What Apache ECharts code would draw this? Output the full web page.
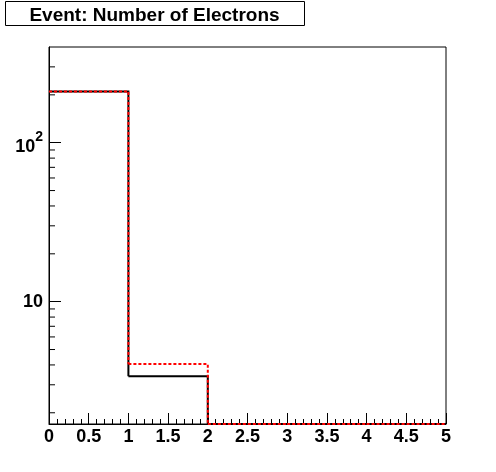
<!DOCTYPE html>
<html>
<head>
<meta charset="utf-8">
<script src="https://cdn.jsdelivr.net/npm/echarts@6/dist/echarts.min.js"></script>
<style>
html,body{margin:0;padding:0;background:#fff;}
#chart{width:496px;height:472px;}
</style>
</head>
<body>
<div id="chart"></div>
<script>
// ---- data ----
const titleText = 'Event: Number of Electrons';
const binEdges = [0, 1, 2, 3, 4, 5];
const blackValues = [210, 3.4, 0, 0, 0];
const redValues = [210, 4.05, 0, 0, 0];
const xMin = 0, xMax = 5, xInterval = 0.5;
const yMin = 1.7, yMax = 400;
const yMinorTicks = [2, 3, 4, 5, 6, 7, 8, 9, 20, 30, 40, 50, 60, 70, 80, 90, 200, 300];

const FONT = '"Liberation Sans", Arial, Helvetica, sans-serif';

function histData(values) {
  return values.map((v, i) => [binEdges[i], binEdges[i + 1], v, i + 1 < values.length ? values[i + 1] : 0]);
}

function makeHistRender(stroke, width, dash) {
  return function (params, api) {
    const cs = params.coordSys;
    const bottom = cs.y + cs.height;
    const x0 = api.value(0), x1 = api.value(1), v = api.value(2), vn = api.value(3);
    const yOf = (x, val) => val > 0 ? Math.min(api.coord([x, val])[1], bottom) : bottom;
    const px0 = api.coord([x0, yMax])[0];
    const px1 = api.coord([x1, yMax])[0];
    const yv = yOf(x0, v);
    const yn = yOf(x1, vn);
    return {
      type: 'polyline',
      shape: { points: [[px0, yv], [px1, yv], [px1, yn]] },
      style: { stroke: stroke, lineWidth: width, lineDash: dash, fill: null }
    };
  };
}

const chart = echarts.init(document.getElementById('chart'), null, { renderer: 'canvas' });
chart.setOption({
  animation: false,
  backgroundColor: '#fff',
  grid: { left: 49, right: 50, top: 47, bottom: 48, show: true, borderColor: '#000', borderWidth: 1, backgroundColor: 'transparent' },
  xAxis: {
    type: 'value', min: xMin, max: xMax, interval: xInterval,
    axisLine: { show: true, onZero: false, lineStyle: { color: '#000', width: 1 } },
    axisTick: { show: true, inside: true, length: 11, lineStyle: { color: '#000', width: 1 } },
    minorTick: { show: true, splitNumber: 5, length: 5, lineStyle: { color: '#000', width: 1 } },
    splitLine: { show: false },
    axisLabel: { color: '#000', fontFamily: FONT, fontWeight: 'bold', fontSize: 18, margin: 4 }
  },
  yAxis: {
    type: 'log', logBase: 10, min: yMin, max: yMax,
    axisLine: { show: true, lineStyle: { color: '#000', width: 1 } },
    axisTick: { show: true, inside: true, length: 12, lineStyle: { color: '#000', width: 1 } },
    splitLine: { show: false },
    axisLabel: {
      showMinLabel: false, showMaxLabel: false,
      margin: 6,
      color: '#000', fontFamily: FONT, fontWeight: 'bold', fontSize: 18,
      formatter: function (v) {
        if (Math.abs(v - 100) < 1e-6) return '{b|10}{s|2}';
        if (Math.abs(v - 10) < 1e-6) return '{n|10}';
        return '';
      },
      rich: {
        n: { fontFamily: FONT, fontWeight: 'bold', fontSize: 18, color: '#000' },
        b: { fontFamily: FONT, fontWeight: 'bold', fontSize: 18, color: '#000', lineHeight: 26, verticalAlign: 'bottom' },
        s: { fontFamily: FONT, fontWeight: 'bold', fontSize: 14, color: '#000', lineHeight: 26, verticalAlign: 'top' }
      }
    }
  },
  graphic: [
    {
      type: 'rect', left: 5, top: 1, z: 10,
      shape: { width: 299, height: 24 },
      style: { fill: '#fff', stroke: '#000', lineWidth: 1 }
    },
    {
      type: 'text', z: 11,
      x: 154.5, y: 15.5,
      style: { text: titleText, fill: '#000', font: 'bold 19px ' + FONT, textAlign: 'center', textVerticalAlign: 'middle' }
    }
  ],
  series: [
    {
      type: 'custom', name: 'minorY', silent: true, clip: false,
      data: yMinorTicks.map(v => [xMin, v]),
      encode: { x: 0, y: 1 },
      renderItem: function (params, api) {
        const p = api.coord([api.value(0), api.value(1)]);
        return { type: 'line', shape: { x1: p[0], y1: p[1], x2: p[0] + 6, y2: p[1] }, style: { stroke: '#000', lineWidth: 1 } };
      },
      z: 3
    },
    {
      type: 'custom', name: 'black', silent: true, clip: false,
      data: histData(blackValues),
      encode: { x: [0, 1], y: 2 },
      renderItem: makeHistRender('#000', 2, null),
      z: 4
    },
    {
      type: 'custom', name: 'red', silent: true, clip: false,
      data: histData(redValues),
      encode: { x: [0, 1], y: 2 },
      renderItem: makeHistRender('#ff0000', 2, [3, 2]),
      z: 5
    }
  ]
});
</script>
</body>
</html>
